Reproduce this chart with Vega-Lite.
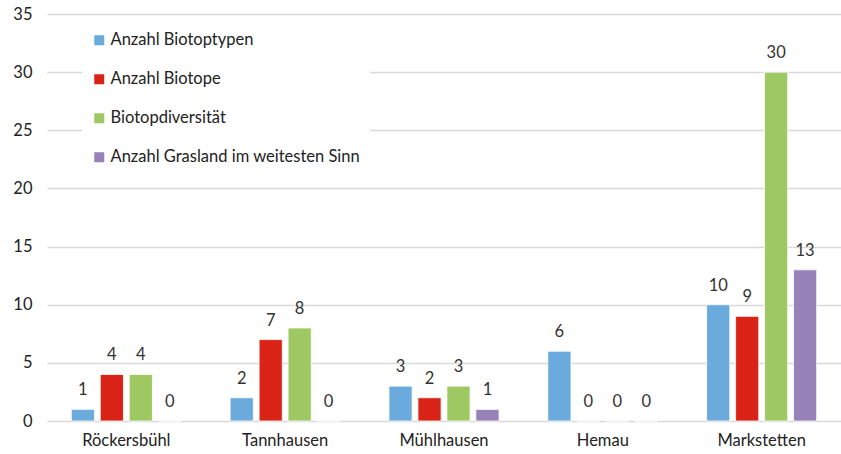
{
  "$schema": "https://vega.github.io/schema/vega-lite/v6.json",
  "width": 794,
  "height": 407,
  "autosize": {"type": "none"},
  "padding": {"left": 47, "top": 14, "right": 0, "bottom": 33},
  "background": "white",
  "config": {
    "view": {"stroke": null},
    "font": "Lato",
    "axis": {"labelFont": "Lato", "labelFontSize": 16.5, "labelColor": "#222222"},
    "legend": {"labelFont": "Lato", "labelFontSize": 16.5, "labelColor": "#222222"}
  },
  "data": {
    "values": [
      {"ort": "Röckersbühl", "serie": "Anzahl Biotoptypen", "wert": 1},
      {"ort": "Röckersbühl", "serie": "Anzahl Biotope", "wert": 4},
      {"ort": "Röckersbühl", "serie": "Biotopdiversität", "wert": 4},
      {"ort": "Röckersbühl", "serie": "Anzahl Grasland im weitesten Sinn", "wert": 0},
      {"ort": "Tannhausen", "serie": "Anzahl Biotoptypen", "wert": 2},
      {"ort": "Tannhausen", "serie": "Anzahl Biotope", "wert": 7},
      {"ort": "Tannhausen", "serie": "Biotopdiversität", "wert": 8},
      {"ort": "Tannhausen", "serie": "Anzahl Grasland im weitesten Sinn", "wert": 0},
      {"ort": "Mühlhausen", "serie": "Anzahl Biotoptypen", "wert": 3},
      {"ort": "Mühlhausen", "serie": "Anzahl Biotope", "wert": 2},
      {"ort": "Mühlhausen", "serie": "Biotopdiversität", "wert": 3},
      {"ort": "Mühlhausen", "serie": "Anzahl Grasland im weitesten Sinn", "wert": 1},
      {"ort": "Hemau", "serie": "Anzahl Biotoptypen", "wert": 6},
      {"ort": "Hemau", "serie": "Anzahl Biotope", "wert": 0},
      {"ort": "Hemau", "serie": "Biotopdiversität", "wert": 0},
      {"ort": "Hemau", "serie": "Anzahl Grasland im weitesten Sinn", "wert": 0},
      {"ort": "Markstetten", "serie": "Anzahl Biotoptypen", "wert": 10},
      {"ort": "Markstetten", "serie": "Anzahl Biotope", "wert": 9},
      {"ort": "Markstetten", "serie": "Biotopdiversität", "wert": 30},
      {"ort": "Markstetten", "serie": "Anzahl Grasland im weitesten Sinn", "wert": 13}
    ]
  },
  "encoding": {
    "x": {
      "field": "ort",
      "type": "nominal",
      "sort": ["Röckersbühl", "Tannhausen", "Mühlhausen", "Hemau", "Markstetten"],
      "scale": {"paddingInner": 0.307, "paddingOuter": 0.153},
      "axis": {"title": null, "labelAngle": 0, "domain": false, "ticks": false, "labelPadding": 11}
    },
    "xOffset": {
      "field": "serie",
      "type": "nominal",
      "sort": ["Anzahl Biotoptypen", "Anzahl Biotope", "Biotopdiversität", "Anzahl Grasland im weitesten Sinn"],
      "scale": {"paddingInner": 0.2, "paddingOuter": 0}
    },
    "y": {
      "field": "wert",
      "type": "quantitative",
      "scale": {"domain": [0, 35], "nice": false},
      "axis": {"title": null, "values": [0, 5, 10, 15, 20, 25, 30, 35], "domain": false, "ticks": false, "labelPadding": 15, "gridColor": "#d9d9d9", "gridWidth": 1.5}
    }
  },
  "layer": [
    {
      "mark": {"type": "bar", "stroke": "white", "strokeWidth": 0.8},
      "encoding": {
        "color": {
          "field": "serie",
          "type": "nominal",
          "scale": {
            "domain": ["Anzahl Biotoptypen", "Anzahl Biotope", "Biotopdiversität", "Anzahl Grasland im weitesten Sinn"],
            "range": ["#6aaadc", "#d92316", "#9ec862", "#9682b9"]
          },
          "legend": {
            "title": null,
            "orient": "none",
            "legendX": 35,
            "legendY": 9,
            "fillColor": "white",
            "padding": 9,
            "symbolType": "square",
            "symbolSize": 100,
            "symbolStrokeWidth": 0,
            "rowPadding": 22,
            "labelOffset": 3,
            "labelLimit": 0
          }
        }
      }
    },
    {
      "mark": {"type": "text", "baseline": "bottom", "dy": -11, "fontSize": 16.5, "color": "#333333", "font": "Lato"},
      "encoding": {"text": {"field": "wert", "type": "quantitative"}}
    }
  ]
}
